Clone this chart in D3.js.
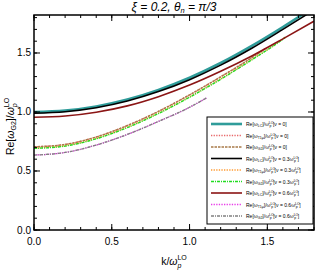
<!DOCTYPE html>
<html>
<head>
<meta charset="utf-8">
<script src="https://cdn.jsdelivr.net/npm/d3@7"></script>
<style>
  body { margin: 0; background: #fff; }
  svg { font-family: "Liberation Sans", Arial, sans-serif; }
</style>
</head>
<body>
<svg id="chart" width="316" height="273"></svg>
<script>
// k values (x) for each group of curves
var kFull = [0, 0.2, 0.4, 0.6, 0.8, 1.0, 1.2, 1.4, 1.6, 1.8];
var kNu0 = [0, 0.2, 0.4, 0.6, 0.8, 1.0, 1.2, 1.4, 1.49];
var kNu3 = [0, 0.2, 0.4, 0.6, 0.8, 1.0, 1.2, 1.4, 1.6, 1.615];
var kNu6 = [0, 0.2, 0.4, 0.6, 0.8, 1.0, 1.11];

// Re[omega]/omega_p^LO values
var lcNu0 = [1.0, 1.012, 1.047, 1.105, 1.187, 1.29, 1.415, 1.56, 1.72, 1.89];
var lcNu3 = [0.99, 1.002, 1.036, 1.093, 1.173, 1.274, 1.397, 1.54, 1.70, 1.865];
var lcNu6 = [0.955, 0.966, 0.998, 1.052, 1.13, 1.228, 1.345, 1.475, 1.62, 1.77];
var t1Nu0 = [0.705, 0.725, 0.788, 0.885, 1.005, 1.145, 1.298, 1.46, 1.54];
var g2Nu0 = [0.705, 0.725, 0.788, 0.885, 1.005, 1.145, 1.298, 1.46, 1.54];
var t1Nu3 = [0.695, 0.714, 0.776, 0.871, 0.99, 1.128, 1.28, 1.445, 1.62, 1.635];
var g2Nu3 = [0.692, 0.711, 0.773, 0.868, 0.987, 1.125, 1.277, 1.442, 1.617, 1.632];
var t1Nu6 = [0.635, 0.657, 0.72, 0.81, 0.92, 1.04, 1.12];
var g2Nu6 = [0.635, 0.657, 0.72, 0.81, 0.92, 1.04, 1.12];

var xTicks = [0.0, 0.5, 1.0, 1.5];
var yTicks = [0.0, 0.5, 1.0, 1.5];

var series = [
  { k: kFull, v: lcNu0, name: "LC", nu: "0", color: "#2f9c9a", width: 2.6, dash: null },
  { k: kNu0, v: t1Nu0, name: "T1μ", nu: "0", color: "#e8686a", width: 1.3, dash: "1.3,1.3" },
  { k: kNu0, v: g2Nu0, name: "G2", nu: "0", color: "#a87a48", width: 1.5, dash: "2.5,1" },
  { k: kFull, v: lcNu3, name: "LC", nu: "0.3", color: "#000000", width: 1.6, dash: null },
  { k: kNu3, v: t1Nu3, name: "T1μ", nu: "0.3", color: "#ff9a30", width: 1.3, dash: "1.3,1.3" },
  { k: kNu3, v: g2Nu3, name: "G2", nu: "0.3", color: "#22dd22", width: 1.4, dash: "3,1,1,1" },
  { k: kFull, v: lcNu6, name: "LC", nu: "0.6", color: "#8b1515", width: 1.6, dash: null },
  { k: kNu6, v: t1Nu6, name: "T1μ", nu: "0.6", color: "#e83ee8", width: 1.3, dash: "1.3,1.3" },
  { k: kNu6, v: g2Nu6, name: "G2", nu: "0.6", color: "#808080", width: 1.3, dash: "3,1,1,1" }
];

var svg = d3.select("#chart");
var pLeft = 34, pRight = 314, pTop = 15, pBottom = 230;

var x = d3.scaleLinear().domain([0, 1.8]).range([pLeft, pRight]);
var y = d3.scaleLinear().domain([0, 1.822]).range([pBottom, pTop]);

svg.append("clipPath").attr("id", "clip")
  .append("rect").attr("x", pLeft).attr("y", pTop)
  .attr("width", pRight - pLeft).attr("height", pBottom - pTop);

// curves
var line = d3.line()
  .x(function (d) { return x(d[0]); })
  .y(function (d) { return y(d[1]); })
  .curve(d3.curveMonotoneX);

var curves = svg.append("g").attr("clip-path", "url(#clip)");
series.forEach(function (s) {
  var pts = s.k.map(function (k, i) { return [k, s.v[i]]; });
  curves.append("path")
    .attr("d", line(pts))
    .attr("fill", "none")
    .attr("stroke", s.color)
    .attr("stroke-width", s.width)
    .attr("stroke-dasharray", s.dash);
});

// frame ticks, inward on all four sides
var minorX = d3.range(0, 1.81, 0.1);
var minorY = d3.range(0, 1.81, 0.1);
var axisG = svg.append("g");

function tickSet(scale, vals, len, pos) {
  vals.forEach(function (v) {
    var p = scale(v);
    if (pos === "bottom") axisG.append("line").attr("x1", p).attr("x2", p).attr("y1", pBottom).attr("y2", pBottom - len);
    if (pos === "top") axisG.append("line").attr("x1", p).attr("x2", p).attr("y1", pTop).attr("y2", pTop + len);
    if (pos === "left") axisG.append("line").attr("y1", p).attr("y2", p).attr("x1", pLeft).attr("x2", pLeft + len);
    if (pos === "right") axisG.append("line").attr("y1", p).attr("y2", p).attr("x1", pRight).attr("x2", pRight - len);
  });
}
tickSet(x, minorX, 3, "bottom");
tickSet(x, minorX, 3, "top");
tickSet(y, minorY, 3, "left");
tickSet(y, minorY, 3, "right");
tickSet(x, xTicks, 6, "bottom");
tickSet(x, xTicks, 6, "top");
tickSet(y, yTicks, 6, "left");
tickSet(y, yTicks, 6, "right");
axisG.selectAll("line").attr("stroke", "#000").attr("stroke-width", 1);

svg.append("rect")
  .attr("x", pLeft).attr("y", pTop)
  .attr("width", pRight - pLeft).attr("height", pBottom - pTop)
  .attr("fill", "none").attr("stroke", "#000").attr("stroke-width", 1.5);

// tick labels
svg.selectAll(".xl").data(xTicks).enter().append("text")
  .attr("x", function (d) { return x(d); })
  .attr("y", 245)
  .attr("text-anchor", "middle")
  .attr("font-size", 10)
  .text(function (d) { return d.toFixed(1); });

svg.selectAll(".yl").data(yTicks).enter().append("text")
  .attr("x", 31)
  .attr("y", function (d) { return y(d) + 3.5; })
  .attr("text-anchor", "end")
  .attr("font-size", 10)
  .text(function (d) { return d.toFixed(1); });

// title
var title = svg.append("text")
  .attr("x", (pLeft + pRight) / 2).attr("y", 11)
  .attr("text-anchor", "middle")
  .attr("font-size", 12).attr("font-style", "italic");
title.append("tspan").text("ξ = 0.2, θ");
title.append("tspan").attr("font-size", 7.5).attr("dy", 2).text("n");
title.append("tspan").attr("dy", -2).text(" = π/3");

// x axis label
var xl = svg.append("text")
  .attr("x", (pLeft + pRight) / 2).attr("y", 265)
  .attr("text-anchor", "middle").attr("font-size", 10.5);
xl.append("tspan").text("k/");
xl.append("tspan").attr("font-style", "italic").text("ω");
xl.append("tspan").attr("font-size", 7).attr("font-style", "italic").attr("dy", 3).text("p");
xl.append("tspan").attr("font-size", 7).attr("dy", -8).attr("dx", -4).text("LO");

// y axis label
var yl = svg.append("text")
  .attr("transform", "translate(14," + ((pTop + pBottom) / 2 + 4) + ") rotate(-90)")
  .attr("text-anchor", "middle").attr("font-size", 10.5);
yl.append("tspan").text("Re[");
yl.append("tspan").attr("font-style", "italic").text("ω");
yl.append("tspan").attr("font-size", 7).attr("dy", 2).text("G2");
yl.append("tspan").attr("dy", -2).text("]/");
yl.append("tspan").attr("font-style", "italic").text("ω");
yl.append("tspan").attr("font-size", 7).attr("font-style", "italic").attr("dy", 3).text("p");
yl.append("tspan").attr("font-size", 7).attr("dy", -8).attr("dx", -4).text("LO");

// legend
var lg = svg.append("g");
lg.append("rect")
  .attr("x", 207).attr("y", 117).attr("width", 106).attr("height", 107)
  .attr("fill", "#fff").attr("stroke", "#000").attr("stroke-width", 1);
series.forEach(function (s, i) {
  var yy = 124 + i * 11.5;
  lg.append("line")
    .attr("x1", 211).attr("x2", 242).attr("y1", yy).attr("y2", yy)
    .attr("stroke", s.color).attr("stroke-width", s.width)
    .attr("stroke-dasharray", s.dash);
  var t = lg.append("text").attr("x", 246).attr("y", yy + 2).attr("font-size", 5);
  t.append("tspan").text("Re[ω");
  t.append("tspan").attr("font-size", 3.5).attr("dy", 1).text(s.name);
  t.append("tspan").attr("dy", -1).text("]/ω");
  t.append("tspan").attr("font-size", 3.5).attr("dy", -2).text("LO");
  t.append("tspan").attr("font-size", 3.5).attr("dy", 3).attr("dx", -4).text("p");
  t.append("tspan").attr("dy", -1).attr("dx", 1.5).text("[ν = " + (s.nu === "0" ? "0" : s.nu + "ω"));
  if (s.nu !== "0") {
    t.append("tspan").attr("font-size", 3.5).attr("dy", -2).text("LO");
    t.append("tspan").attr("font-size", 3.5).attr("dy", 3).attr("dx", -4).text("p");
    t.append("tspan").attr("dy", -1).attr("dx", 1.5).text("]");
  } else {
    t.append("tspan").text("]");
  }
});
</script>
</body>
</html>
